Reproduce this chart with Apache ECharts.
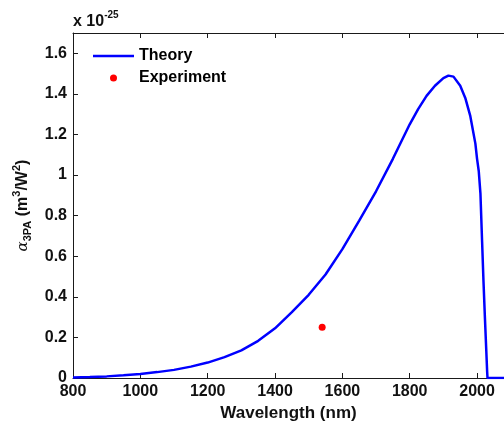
<!DOCTYPE html>
<html>
<head>
<meta charset="utf-8">
<script src="https://cdn.jsdelivr.net/npm/echarts@6/dist/echarts.min.js"></script>
<style>
html,body{margin:0;padding:0;background:#fff;}
#chart{width:504px;height:423px;}
</style>
</head>
<body>
<div id="chart"></div>
<script>
// Theory curve (alpha_3PA in units of 1e-25 m^3/W^2)
const theoryWavelength = [800, 850, 900, 950, 1000, 1050, 1100, 1150, 1200, 1250, 1300, 1350, 1400, 1450, 1500, 1550, 1600, 1650, 1700, 1750, 1800, 1825, 1850, 1875, 1900, 1915, 1930, 1950, 1965, 1980, 1995, 2000, 2005, 2010, 2015, 2019, 2023, 2027, 2030, 2031, 2050, 2080];
const theoryAlpha = [0.003, 0.005, 0.008, 0.013, 0.02, 0.029, 0.04, 0.056, 0.076, 0.103, 0.136, 0.183, 0.245, 0.325, 0.41, 0.51, 0.635, 0.775, 0.92, 1.08, 1.25, 1.325, 1.39, 1.44, 1.478, 1.49, 1.485, 1.44, 1.38, 1.29, 1.155, 1.08, 1.02, 0.91, 0.67, 0.48, 0.31, 0.15, 0.03, 0, 0, 0];
// Experiment
const expWavelength = [1540];
const expAlpha = [0.25];
// Axis ticks
const xTicks = [800, 1000, 1200, 1400, 1600, 1800, 2000];
const yTicks = [0, 0.2, 0.4, 0.6, 0.8, 1, 1.2, 1.4, 1.6];

const FONT = '"Liberation Sans", Arial, sans-serif';
const chart = echarts.init(document.getElementById('chart'));

const theoryData = theoryWavelength.map((w, i) => [w, theoryAlpha[i]]);
const expData = expWavelength.map((w, i) => [w, expAlpha[i]]);

const axisLine = {show: true, lineStyle: {color: '#1a1a1a', width: 1}};
const tickStyle = {show: true, inside: true, length: 5, lineStyle: {color: '#1a1a1a', width: 1}};

chart.setOption({
  animation: false,
  backgroundColor: '#fff',
  grid: {left: 73, top: 33, width: 431, height: 345, containLabel: false, outerBoundsMode: 'none'},
  legend: {
    left: 88, top: 43, orient: 'vertical',
    itemWidth: 41, itemHeight: 7, itemGap: 6,
    textStyle: {fontFamily: FONT, fontWeight: 'bold', fontSize: 16, color: '#000'},
    data: [
      {name: 'Theory', icon: 'path://M0,0 L41,0 L41,2.5 L0,2.5 Z', itemStyle: {color: '#0000ff'}},
      {name: 'Experiment', icon: 'circle', itemStyle: {color: '#ff0000', opacity: 1}}
    ]
  },
  xAxis: [{
    type: 'value', min: 800, max: 2080, interval: 200, position: 'bottom',
    axisLine: axisLine, axisTick: tickStyle, splitLine: {show: false},
    axisLabel: {fontFamily: FONT, fontWeight: 'bold', fontSize: 16, color: '#111', margin: 6,
      formatter: v => xTicks.indexOf(v) >= 0 ? String(v) : ''},
    name: 'Wavelength (nm)', nameLocation: 'middle', nameGap: 25,
    nameTextStyle: {fontFamily: FONT, fontWeight: 'bold', fontSize: 17, color: '#111'}
  }, {
    type: 'value', min: 800, max: 2080, interval: 200, position: 'top',
    axisLine: axisLine, axisTick: tickStyle, axisLabel: {show: false}, splitLine: {show: false}
  }],
  yAxis: [{
    type: 'value', min: 0, max: 1.7, interval: 0.2, position: 'left',
    axisLine: axisLine, axisTick: tickStyle, splitLine: {show: false},
    axisLabel: {fontFamily: FONT, fontWeight: 'bold', fontSize: 16, color: '#111', margin: 6,
      formatter: v => {
        const r = Math.round(v * 10) / 10;
        return yTicks.indexOf(r) >= 0 && Math.abs(v - r) < 1e-6 ? String(r) : '';
      }},
    name: '{a|α}{s|3PA}{b| (m}{p|3}{b|/W}{p|2}{b|)}',
    nameLocation: 'middle', nameRotate: 90, nameGap: 35,
    nameTextStyle: {
      rich: {
        a: {fontFamily: '"DejaVu Serif", serif', fontStyle: 'italic', fontSize: 15, color: '#111', lineHeight: 22, verticalAlign: 'middle'},
        s: {fontFamily: FONT, fontWeight: 'bold', fontSize: 11, color: '#111', lineHeight: 12, verticalAlign: 'bottom'},
        b: {fontFamily: FONT, fontWeight: 'bold', fontSize: 16, color: '#111', lineHeight: 22, verticalAlign: 'middle'},
        p: {fontFamily: FONT, fontWeight: 'bold', fontSize: 11, color: '#111', lineHeight: 12, verticalAlign: 'top'}
      }
    }
  }],
  graphic: [{
    type: 'text', left: 73, top: 10,
    style: {
      text: '{b|x 10}{p|-25}',
      rich: {
        b: {fontFamily: FONT, fontWeight: 'bold', fontSize: 16, fill: '#111', lineHeight: 20, verticalAlign: 'bottom'},
        p: {fontFamily: FONT, fontWeight: 'bold', fontSize: 10, fill: '#111', lineHeight: 12, verticalAlign: 'top'}
      }
    }
  }],
  series: [{
    name: 'Theory', type: 'line', data: theoryData, showSymbol: false, symbol: 'none',
    lineStyle: {color: '#0000ff', width: 2.5}, itemStyle: {color: '#0000ff'}, z: 3
  }, {
    name: 'Experiment', type: 'scatter', data: expData, symbol: 'circle', symbolSize: 7,
    itemStyle: {color: '#ff0000', opacity: 1}, z: 4
  }]
});
</script>
</body>
</html>
